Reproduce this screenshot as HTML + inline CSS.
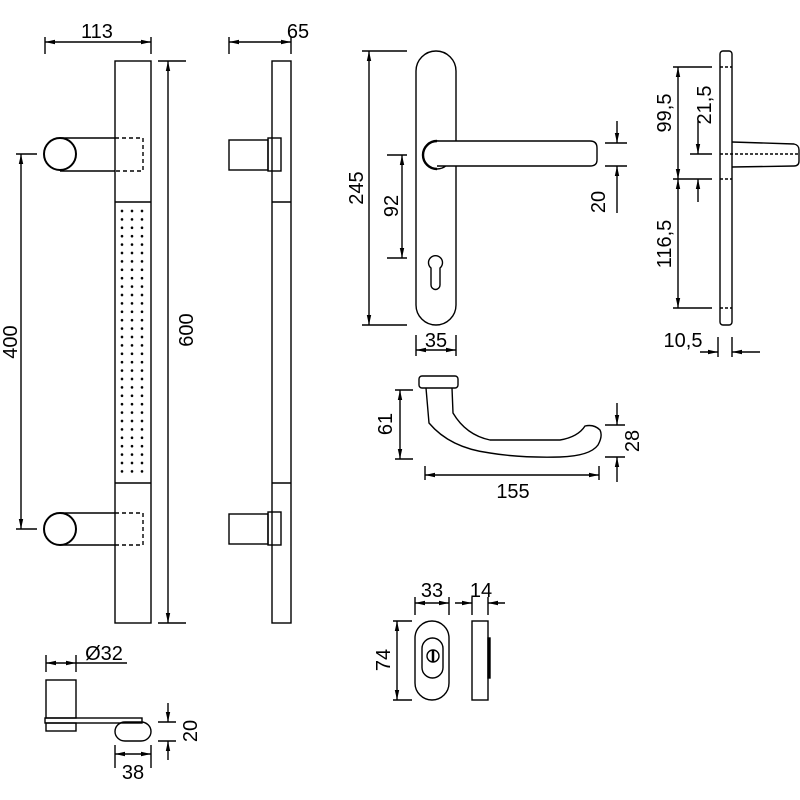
<!DOCTYPE html>
<html><head><meta charset="utf-8"><style>
html,body{margin:0;padding:0;background:#fff}
svg{display:block}
text{font-family:"Liberation Sans",Arial,sans-serif;font-size:20px;fill:#000}
</style></head><body>
<svg width="800" height="800" viewBox="0 0 800 800" xmlns="http://www.w3.org/2000/svg">
<defs>
<marker id="a" viewBox="0 0 10 6" refX="10" refY="3" markerWidth="10" markerHeight="6" markerUnits="userSpaceOnUse" orient="auto-start-reverse"><path d="M0,0.8 L10,3 L0,5.2z" fill="#000"/></marker>
<pattern id="dp" x="117" y="206.8" width="10" height="8.4" patternUnits="userSpaceOnUse"><circle cx="5" cy="4.2" r="1.3" fill="#000"/></pattern>
</defs>
<rect x="117" y="206" width="30" height="272" fill="url(#dp)"/>
<g stroke="#000" stroke-width="1.4" fill="none">
<rect x="115" y="61" width="36" height="562"/>
<line x1="115" y1="202" x2="151" y2="202"/>
<line x1="115" y1="483" x2="151" y2="483"/>
<circle cx="60" cy="154" r="16" stroke-width="2"/>
<line x1="60" y1="138" x2="115" y2="138"/><line x1="60" y1="171" x2="115" y2="171"/>
<path d="M115,138 H143 V171 H115" stroke-dasharray="4,3"/>
<circle cx="60" cy="529" r="16" stroke-width="2"/>
<line x1="60" y1="513" x2="115" y2="513"/><line x1="60" y1="545" x2="115" y2="545"/>
<path d="M115,513 H143 V545 H115" stroke-dasharray="4,3"/>
<line x1="45" y1="37" x2="45" y2="54"/><line x1="151" y1="37" x2="151" y2="54"/>
<line x1="45" y1="42" x2="151" y2="42" marker-start="url(#a)" marker-end="url(#a)"/>
<line x1="158" y1="61" x2="186" y2="61"/><line x1="158" y1="623" x2="186" y2="623"/>
<line x1="168" y1="61" x2="168" y2="623" marker-start="url(#a)" marker-end="url(#a)"/>
<line x1="16" y1="154" x2="37" y2="154"/><line x1="16" y1="529" x2="37" y2="529"/>
<line x1="21" y1="154" x2="21" y2="529" marker-start="url(#a)" marker-end="url(#a)"/>
<rect x="272" y="61" width="19" height="562"/>
<line x1="272" y1="202" x2="291" y2="202"/><line x1="272" y1="483" x2="291" y2="483"/>
<rect x="229" y="140" width="39" height="30"/><rect x="268" y="138" width="13" height="33"/>
<rect x="229" y="514" width="39" height="30"/><rect x="268" y="512" width="13" height="33"/>
<line x1="229" y1="37" x2="229" y2="54"/><line x1="291" y1="37" x2="291" y2="54"/>
<line x1="229" y1="42" x2="291" y2="42" marker-start="url(#a)" marker-end="url(#a)"/>
<rect x="46" y="680" width="30" height="38"/>
<rect x="45" y="718" width="97" height="5"/>
<rect x="46" y="723" width="30" height="8"/>
<rect x="115" y="722" width="36" height="19" rx="10"/>
<line x1="46" y1="655" x2="46" y2="672"/><line x1="76" y1="655" x2="76" y2="672"/>
<line x1="46" y1="663" x2="76" y2="663" marker-start="url(#a)" marker-end="url(#a)"/>
<line x1="76" y1="663" x2="127" y2="663"/>
<line x1="158" y1="722" x2="176" y2="722"/><line x1="158" y1="741" x2="176" y2="741"/>
<line x1="168" y1="703" x2="168" y2="722" marker-end="url(#a)"/>
<line x1="168" y1="760" x2="168" y2="741" marker-end="url(#a)"/>
<line x1="115" y1="745" x2="115" y2="768"/><line x1="151" y1="745" x2="151" y2="768"/>
<line x1="115" y1="754" x2="151" y2="754" marker-start="url(#a)" marker-end="url(#a)"/>
<rect x="416" y="51" width="40" height="274" rx="20"/>
<circle cx="437" cy="155" r="14" stroke-width="1.4"/>
<path d="M437,141 A14,14 0 0 0 437,169" stroke-width="2.4"/>
<path d="M437,141 H590 Q597,141 597,148 V160 Q597,166 590,166 H437" fill="#fff"/>
<path d="M431,285 V268 A7,7 0 1 1 440,268 V285 A4.5,4.5 0 0 1 431,285z"/>
<line x1="362" y1="51" x2="407" y2="51"/><line x1="362" y1="325" x2="407" y2="325"/>
<line x1="369" y1="51" x2="369" y2="325" marker-start="url(#a)" marker-end="url(#a)"/>
<line x1="387" y1="155" x2="407" y2="155"/><line x1="387" y1="258" x2="407" y2="258"/>
<line x1="402" y1="155" x2="402" y2="258" marker-start="url(#a)" marker-end="url(#a)"/>
<line x1="605" y1="143" x2="627" y2="143"/><line x1="605" y1="166" x2="627" y2="166"/>
<line x1="617" y1="121" x2="617" y2="143" marker-end="url(#a)"/>
<line x1="617" y1="213" x2="617" y2="166" marker-end="url(#a)"/>
<line x1="416" y1="335" x2="416" y2="356"/><line x1="456" y1="335" x2="456" y2="356"/>
<line x1="416" y1="350" x2="456" y2="350" marker-start="url(#a)" marker-end="url(#a)"/>
<rect x="720" y="51" width="12" height="274" rx="3"/>
<path d="M732,142 L794,144 Q799,145 799,150 V161 Q799,166 794,166 L732,167"/>
<line x1="720" y1="154" x2="799" y2="154" stroke-dasharray="3,2"/>
<line x1="720" y1="67" x2="732" y2="67" stroke-dasharray="3,2"/>
<line x1="720" y1="179" x2="732" y2="179" stroke-dasharray="3,2"/>
<line x1="720" y1="308" x2="732" y2="308" stroke-dasharray="3,2"/>
<line x1="673" y1="67" x2="712" y2="67"/><line x1="673" y1="179" x2="712" y2="179"/><line x1="673" y1="308" x2="712" y2="308"/>
<line x1="690" y1="154" x2="712" y2="154"/>
<line x1="678" y1="67" x2="678" y2="179" marker-start="url(#a)" marker-end="url(#a)"/>
<line x1="678" y1="179" x2="678" y2="308" marker-start="url(#a)" marker-end="url(#a)"/>
<line x1="698" y1="121" x2="698" y2="154" marker-end="url(#a)"/>
<line x1="698" y1="202" x2="698" y2="179" marker-end="url(#a)"/>
<line x1="718" y1="337" x2="718" y2="357"/><line x1="732" y1="337" x2="732" y2="357"/>
<line x1="700" y1="352" x2="718" y2="352" marker-end="url(#a)"/>
<line x1="760" y1="352" x2="732" y2="352" marker-end="url(#a)"/>
<rect x="419" y="376" width="39" height="12" rx="3"/>
<path d="M426,388 L429,423 Q450,448 490,453 Q520,458 560,457 Q590,456 598,445 Q603,436 600,430 Q594,424 585,426 Q578,437 560,440 L490,440 Q466,435 453,413 L452,388"/>
<line x1="395" y1="390" x2="413" y2="390"/><line x1="395" y1="459" x2="413" y2="459"/>
<line x1="400" y1="390" x2="400" y2="459" marker-start="url(#a)" marker-end="url(#a)"/>
<line x1="605" y1="425" x2="625" y2="425"/><line x1="605" y1="457" x2="625" y2="457"/>
<line x1="617" y1="403" x2="617" y2="425" marker-end="url(#a)"/>
<line x1="617" y1="482" x2="617" y2="457" marker-end="url(#a)"/>
<line x1="425" y1="466" x2="425" y2="480"/><line x1="599" y1="466" x2="599" y2="480"/>
<line x1="425" y1="475" x2="599" y2="475" marker-start="url(#a)" marker-end="url(#a)"/>
<rect x="415" y="621" width="34" height="79" rx="17"/>
<rect x="422" y="638" width="21" height="40" rx="10.5"/>
<circle cx="433" cy="656" r="6"/>
<line x1="433" y1="650" x2="433" y2="662" stroke-width="2.5"/>
<rect x="472" y="621" width="16" height="79"/>
<rect x="488" y="638" width="2" height="40" fill="#000"/>
<line x1="393" y1="621" x2="412" y2="621"/><line x1="393" y1="700" x2="412" y2="700"/>
<line x1="397" y1="621" x2="397" y2="700" marker-start="url(#a)" marker-end="url(#a)"/>
<line x1="415" y1="597" x2="415" y2="615"/><line x1="449" y1="597" x2="449" y2="615"/>
<line x1="415" y1="603" x2="449" y2="603" marker-start="url(#a)" marker-end="url(#a)"/>
<line x1="472" y1="597" x2="472" y2="615"/><line x1="488" y1="597" x2="488" y2="615"/>
<line x1="455" y1="603" x2="472" y2="603" marker-end="url(#a)"/>
<line x1="505" y1="603" x2="488" y2="603" marker-end="url(#a)"/>
</g>
<text x="97" y="38" text-anchor="middle">113</text>
<text x="298" y="38" text-anchor="middle">65</text>
<text transform="translate(193,330) rotate(-90)" text-anchor="middle">600</text>
<text transform="translate(17,342) rotate(-90)" text-anchor="middle">400</text>
<text x="104" y="660" text-anchor="middle">Ø32</text>
<text transform="translate(197,731) rotate(-90)" text-anchor="middle">20</text>
<text x="133" y="779" text-anchor="middle">38</text>
<text transform="translate(363,188) rotate(-90)" text-anchor="middle">245</text>
<text transform="translate(398,206) rotate(-90)" text-anchor="middle">92</text>
<text transform="translate(605,202) rotate(-90)" text-anchor="middle">20</text>
<text x="436" y="347" text-anchor="middle">35</text>
<text transform="translate(671,113) rotate(-90)" text-anchor="middle">99,5</text>
<text transform="translate(711,105) rotate(-90)" text-anchor="middle">21,5</text>
<text transform="translate(671,244) rotate(-90)" text-anchor="middle">116,5</text>
<text x="683" y="347" text-anchor="middle">10,5</text>
<text transform="translate(392,424) rotate(-90)" text-anchor="middle">61</text>
<text transform="translate(639,441) rotate(-90)" text-anchor="middle">28</text>
<text x="513" y="498" text-anchor="middle">155</text>
<text x="432" y="597" text-anchor="middle">33</text>
<text x="481" y="597" text-anchor="middle">14</text>
<text transform="translate(390,660) rotate(-90)" text-anchor="middle">74</text>
</svg>
</body></html>
